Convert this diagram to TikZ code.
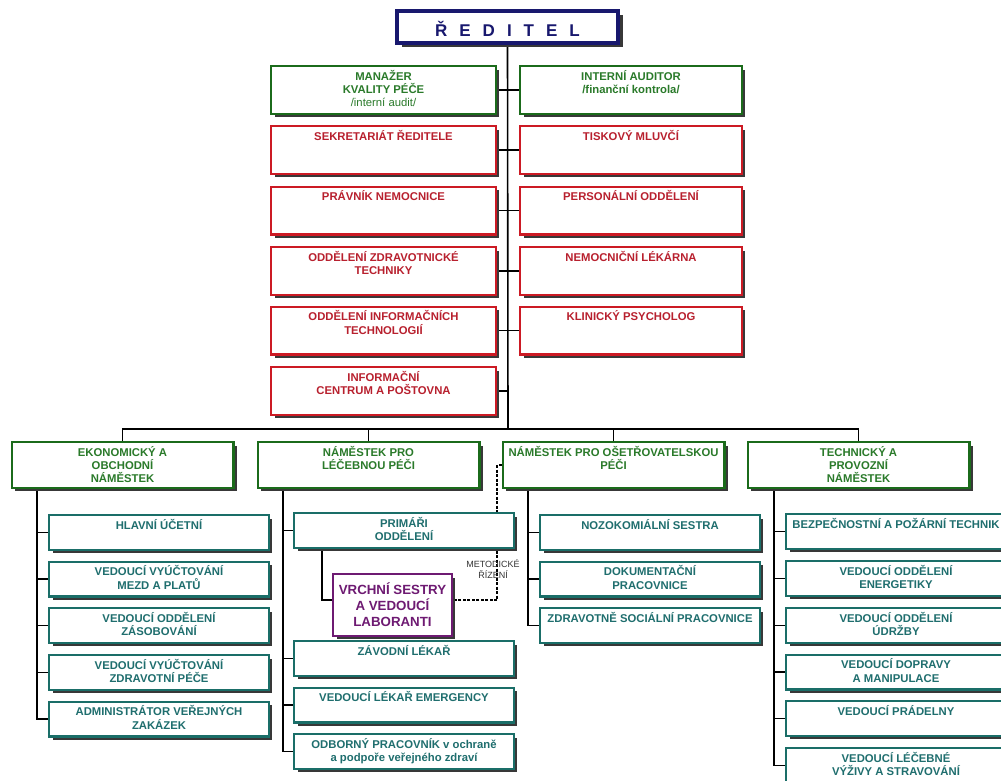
\documentclass[tikz,border=0pt]{standalone}
\usepackage{fontspec}
\setmainfont{Liberation Sans}
\usetikzlibrary{shadows}
\pgfdeclarelayer{background}
\pgfsetlayers{background,main}

\definecolor{navy}{HTML}{18186E}
\definecolor{grn}{HTML}{1B6B1B}
\definecolor{grntxt}{HTML}{2A7A2A}
\definecolor{rd}{HTML}{CC1A24}
\definecolor{rdtxt}{HTML}{B8202E}
\definecolor{tl}{HTML}{1A6E68}
\definecolor{tltxt}{HTML}{1F6E6E}
\definecolor{prp}{HTML}{6E1A72}

% strut fixing the height of the first text line in every box
\newcommand\capstrut{\rule{0pt}{10.6pt}}
% box with its text set near the top edge
\newcommand\orgbox[5]{\node[#1, label={[boxlabel, text=#4]north:{\capstrut#5}}] (#2) at (#3) {};}

\begin{document}
\begin{tikzpicture}[x=1pt, y=-1pt,
  shadowed/.style={drop shadow={shadow xshift=3.5pt, shadow yshift=-3.5pt, fill=black!78, opacity=1}},
  unit box/.style={rectangle, draw, fill=white, line width=2.4pt, inner sep=0pt, shadowed},
  gbox/.style={unit box, draw=grn},
  rbox/.style={unit box, draw=rd},
  tbox/.style={unit box, draw=tl},
  wideL/.style={minimum width=224.6pt, minimum height=47.6pt},
  wideR/.style={minimum width=221.6pt, minimum height=47.6pt},
  deputy/.style={gbox, minimum width=221.6pt, minimum height=45.6pt},
  sub/.style={tbox, minimum width=219.6pt, minimum height=34.6pt},
  boxlabel/.style={anchor=north, inner sep=0pt, align=center, yshift=-4.5pt,
    font=\bfseries\fontsize{11.3}{13.3}\selectfont},
  conn/.style={draw=black, line width=1.6pt},
  metod/.style={draw=black, line width=2pt, dash pattern=on 3pt off 1.5pt}
]
\useasboundingbox (0,0) rectangle (1001,781);

% director
\node[rectangle, draw=navy, fill=white, line width=4pt, inner sep=0pt,
  minimum width=221pt, minimum height=32pt,
  drop shadow={shadow xshift=4.5pt, shadow yshift=-4.5pt, fill=black!78, opacity=1},
  text=navy, font=\bfseries\fontsize{17}{19}\selectfont, text height=20pt, text depth=0pt]
  (red) at (507.5,27)
  {Ř\hspace{12pt}E\hspace{12pt}D\hspace{12pt}I\hspace{12pt}T\hspace{12pt}E\hspace{12pt}L};

% staff units
\orgbox{gbox,wideL}{sl1}{383.5,90}{grntxt}{MANAŽER\\KVALITY PÉČE\\{\mdseries /interní audit/}}
\orgbox{gbox,wideR}{sr1}{631,90}{grntxt}{INTERNÍ AUDITOR\\/finanční kontrola/}
\orgbox{rbox,wideL}{sl2}{383.5,150}{rdtxt}{SEKRETARIÁT ŘEDITELE}
\orgbox{rbox,wideR}{sr2}{631,150}{rdtxt}{TISKOVÝ MLUVČÍ}
\orgbox{rbox,wideL}{sl3}{383.5,210.5}{rdtxt}{PRÁVNÍK NEMOCNICE}
\orgbox{rbox,wideR}{sr3}{631,210.5}{rdtxt}{PERSONÁLNÍ ODDĚLENÍ}
\orgbox{rbox,wideL}{sl4}{383.5,271}{rdtxt}{ODDĚLENÍ ZDRAVOTNICKÉ\\TECHNIKY}
\orgbox{rbox,wideR}{sr4}{631,271}{rdtxt}{NEMOCNIČNÍ LÉKÁRNA}
\orgbox{rbox,wideL}{sl5}{383.5,330.5}{rdtxt}{ODDĚLENÍ INFORMAČNÍCH\\TECHNOLOGIÍ}
\orgbox{rbox,wideR}{sr5}{631,330.5}{rdtxt}{KLINICKÝ PSYCHOLOG}
\orgbox{rbox,wideL}{sl6}{383.5,391}{rdtxt}{INFORMAČNÍ\\CENTRUM A POŠTOVNA}

% deputies
\orgbox{deputy}{ek}{122.5,465}{grntxt}{EKONOMICKÝ A\\OBCHODNÍ\\NÁMĚSTEK}
\orgbox{deputy}{lec}{368.5,465}{grntxt}{NÁMĚSTEK PRO\\LÉČEBNOU PÉČI}
\orgbox{deputy}{os}{613.5,465}{grntxt}{NÁMĚSTEK PRO OŠETŘOVATELSKOU\\PÉČI}
\orgbox{deputy}{tech}{858.5,465}{grntxt}{TECHNICKÝ A\\PROVOZNÍ\\NÁMĚSTEK}

% economic section
\orgbox{sub}{ek1}{159,532.5}{tltxt}{HLAVNÍ ÚČETNÍ}
\orgbox{sub}{ek2}{159,579}{tltxt}{VEDOUCÍ VYÚČTOVÁNÍ\\MEZD A PLATŮ}
\orgbox{sub}{ek3}{159,625.5}{tltxt}{VEDOUCÍ ODDĚLENÍ\\ZÁSOBOVÁNÍ}
\orgbox{sub}{ek4}{159,672.5}{tltxt}{VEDOUCÍ VYÚČTOVÁNÍ\\ZDRAVOTNÍ PÉČE}
\orgbox{sub}{ek5}{159,719}{tltxt}{ADMINISTRÁTOR VEŘEJNÝCH\\ZAKÁZEK}

% medical section
\orgbox{sub}{pri}{404,530.5}{tltxt}{PRIMÁŘI\\ODDĚLENÍ}
\node[unit box, draw=prp, minimum width=118.6pt, minimum height=61.6pt, align=center,
  text=prp, font=\bfseries\fontsize{13.3}{16}\selectfont]
  (vr) at (392.5,605) {VRCHNÍ SESTRY\\A VEDOUCÍ\\LABORANTI};
\orgbox{sub}{lz}{404,658.5}{tltxt}{ZÁVODNÍ LÉKAŘ}
\orgbox{sub}{le}{404,705}{tltxt}{VEDOUCÍ LÉKAŘ EMERGENCY}
\orgbox{sub}{lo}{404,751.5}{tltxt}{ODBORNÝ PRACOVNÍK v ochraně\\a podpoře veřejného zdraví}

% nursing section
\orgbox{sub}{os1}{650,532.5}{tltxt}{NOZOKOMIÁLNÍ SESTRA}
\orgbox{sub}{os2}{650,579}{tltxt}{DOKUMENTAČNÍ\\PRACOVNICE}
\orgbox{sub}{os3}{650,625.5}{tltxt}{ZDRAVOTNĚ SOCIÁLNÍ PRACOVNICE}

% technical section
\orgbox{sub}{te1}{896,531.5}{tltxt}{BEZPEČNOSTNÍ A POŽÁRNÍ TECHNIK}
\orgbox{sub}{te2}{896,578.5}{tltxt}{VEDOUCÍ ODDĚLENÍ\\ENERGETIKY}
\orgbox{sub}{te3}{896,625.5}{tltxt}{VEDOUCÍ ODDĚLENÍ\\ÚDRŽBY}
\orgbox{sub}{te4}{896,672}{tltxt}{VEDOUCÍ DOPRAVY\\A MANIPULACE}
\orgbox{sub}{te5}{896,718.5}{tltxt}{VEDOUCÍ PRÁDELNY}
\orgbox{sub}{te6}{896,765.5}{tltxt}{VEDOUCÍ LÉČEBNÉ\\VÝŽIVY A STRAVOVÁNÍ}

\node[font=\fontsize{9}{10.5}\selectfont, text=black!80, align=center, inner sep=0pt]
  (metlbl) at (493,569) {METODICKÉ\\ŘÍZENÍ};

% connecting lines, kept behind the boxes
\coordinate (bus) at (508,429);
\coordinate (ekT) at (37,489);
\coordinate (lecT) at (283,489);
\coordinate (osT) at (528,489);
\coordinate (techT) at (774,489);
\coordinate (pribend) at (322,600);
\coordinate (metbend) at (497,600);
\begin{pgfonlayer}{background}
  \draw[conn] (red.south) -- (bus);
  \foreach \i in {1,...,5} \draw[conn] (sl\i.east) -- (sr\i.west);
  \draw[conn] (sl6.east) -- (sl6.east -| bus);
  \draw[conn] (ek.north) |- (bus) -| (tech.north);
  \draw[conn] (lec.north) -- (lec.north |- bus);
  \draw[conn] (os.north) -- (os.north |- bus);

  \draw[conn] (ekT) |- (ek5.west);
  \foreach \i in {1,...,4} \draw[conn] (ekT |- ek\i.west) -- (ek\i.west);

  \draw[conn] (lecT) |- (lo.west);
  \foreach \n in {pri,lz,le} \draw[conn] (lecT |- \n.west) -- (\n.west);
  \draw[conn] (pri.south -| pribend) -- (pribend) -- (pribend -| vr.west);

  \draw[conn] (osT) |- (os3.west);
  \foreach \i in {1,2} \draw[conn] (osT |- os\i.west) -- (os\i.west);

  \draw[conn] (techT) |- (te6.west);
  \foreach \i in {1,...,5} \draw[conn] (techT |- te\i.west) -- (te\i.west);

  \draw[metod] (os.west) -| (metbend) -- (metbend -| vr.east);
\end{pgfonlayer}
\end{tikzpicture}
\end{document}
